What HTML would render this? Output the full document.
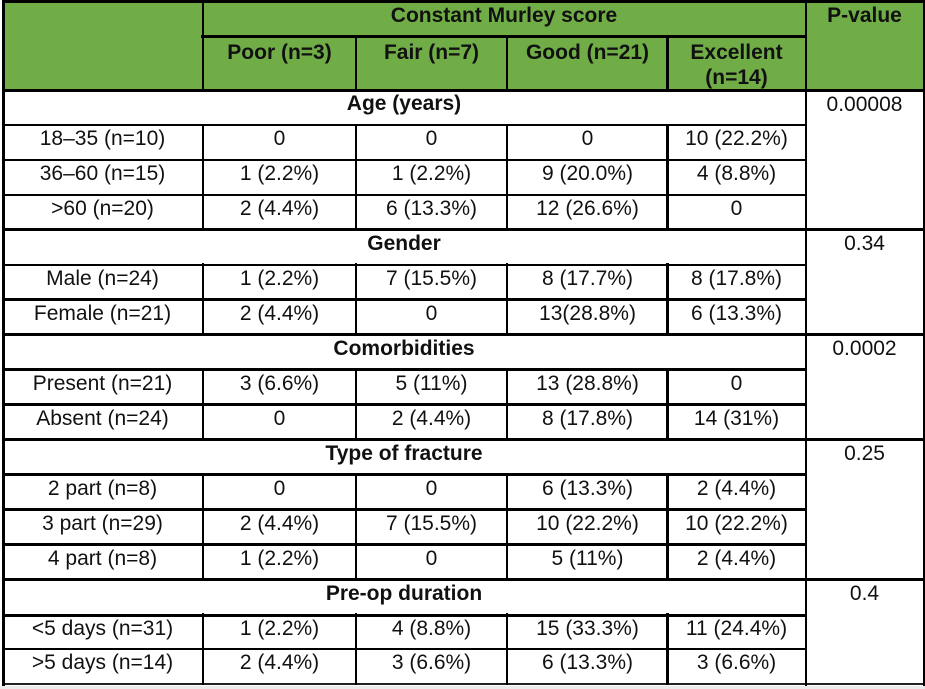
<!DOCTYPE html>
<html>
<head>
<meta charset="utf-8">
<style>
html,body{margin:0;padding:0;background:#fff;}
body{width:925px;height:688px;position:relative;overflow:hidden;}
.t{position:absolute;font-family:"Liberation Sans",sans-serif;font-size:21px;line-height:24px;color:#111;text-align:center;white-space:nowrap;}
.b{font-weight:bold;}
.c0{left:3px;width:199px;}
.c1{left:203px;width:153px;}
.c2{left:356px;width:151px;}
.c3{left:507px;width:161px;}
.c4{left:668px;width:137px;}
.c5{left:806px;width:117px;}
.g{left:3px;width:802px;}
.h{position:absolute;background:#000;}
.v{position:absolute;background:#000;}
</style>
</head>
<body>
<!-- green header background -->
<div style="position:absolute;left:2px;top:0;width:923px;height:90px;background:#70AD47;"></div>

<!-- bottom gray strip -->
<div style="position:absolute;left:0;top:685.5px;width:925px;height:3px;background:#ebebeb;"></div>

<!-- horizontal lines -->
<div class="h" style="left:2px;top:0;width:923px;height:3px;"></div>
<div class="h" style="left:201px;top:35px;width:605px;height:2.6px;"></div>
<div class="h" style="left:2px;top:88.5px;width:923px;height:3px;"></div>

<div class="h" style="left:2px;top:123.7px;width:804px;height:2.5px;"></div>
<div class="h" style="left:2px;top:158.6px;width:804px;height:2.5px;"></div>
<div class="h" style="left:2px;top:193.6px;width:804px;height:2.5px;"></div>
<div class="h" style="left:2px;top:228.3px;width:923px;height:3px;"></div>
<div class="h" style="left:2px;top:263.5px;width:804px;height:2.5px;"></div>
<div class="h" style="left:2px;top:298.4px;width:804px;height:2.5px;"></div>
<div class="h" style="left:2px;top:333.1px;width:923px;height:3px;"></div>
<div class="h" style="left:2px;top:368.3px;width:804px;height:2.5px;"></div>
<div class="h" style="left:2px;top:403.2px;width:804px;height:2.8px;"></div>
<div class="h" style="left:2px;top:437.9px;width:923px;height:3px;"></div>
<div class="h" style="left:2px;top:473.1px;width:804px;height:2.5px;"></div>
<div class="h" style="left:2px;top:508.0px;width:804px;height:2.5px;"></div>
<div class="h" style="left:2px;top:543.0px;width:804px;height:2.5px;"></div>
<div class="h" style="left:2px;top:577.7px;width:923px;height:3px;"></div>
<div class="h" style="left:2px;top:613.9px;width:804px;height:2.8px;"></div>
<div class="h" style="left:2px;top:647.8px;width:804px;height:2.5px;"></div>
<div class="h" style="left:2px;top:683.3px;width:923px;height:2.2px;background:#222;"></div>

<!-- vertical lines: borders -->
<div class="v" style="left:2px;top:0;width:2.5px;height:685.5px;"></div>
<div class="v" style="left:922.7px;top:0;width:2.3px;height:685.5px;"></div>
<div class="v" style="left:804.5px;top:0;width:2.6px;height:685.5px;"></div>

<!-- header verticals -->
<div class="v" style="left:201.5px;top:0;width:2.8px;height:91px;"></div>
<div class="v" style="left:354.5px;top:36px;width:2.8px;height:55px;"></div>
<div class="v" style="left:505.8px;top:36px;width:2.6px;height:55px;"></div>
<div class="v" style="left:666.3px;top:36px;width:2.6px;height:55px;"></div>

<!-- data verticals: Age -->
<div class="v" style="left:201.5px;top:123.5px;width:2.8px;height:106px;"></div>
<div class="v" style="left:354.5px;top:123.5px;width:2.8px;height:106px;"></div>
<div class="v" style="left:505.8px;top:123.5px;width:2.6px;height:106px;"></div>
<div class="v" style="left:666.3px;top:123.5px;width:2.6px;height:106px;"></div>
<!-- Gender -->
<div class="v" style="left:201.5px;top:263.3px;width:2.8px;height:71px;"></div>
<div class="v" style="left:354.5px;top:263.3px;width:2.8px;height:71px;"></div>
<div class="v" style="left:505.8px;top:263.3px;width:2.6px;height:71px;"></div>
<div class="v" style="left:666.3px;top:263.3px;width:2.6px;height:71px;"></div>
<!-- Comorbidities -->
<div class="v" style="left:201.5px;top:368.1px;width:2.8px;height:71px;"></div>
<div class="v" style="left:354.5px;top:368.1px;width:2.8px;height:71px;"></div>
<div class="v" style="left:505.8px;top:368.1px;width:2.6px;height:71px;"></div>
<div class="v" style="left:666.3px;top:368.1px;width:2.6px;height:71px;"></div>
<!-- Type of fracture -->
<div class="v" style="left:201.5px;top:472.9px;width:2.8px;height:106px;"></div>
<div class="v" style="left:354.5px;top:472.9px;width:2.8px;height:106px;"></div>
<div class="v" style="left:505.8px;top:472.9px;width:2.6px;height:106px;"></div>
<div class="v" style="left:666.3px;top:472.9px;width:2.6px;height:106px;"></div>
<!-- Pre-op -->
<div class="v" style="left:201.5px;top:612.7px;width:2.8px;height:72px;"></div>
<div class="v" style="left:354.5px;top:612.7px;width:2.8px;height:72px;"></div>
<div class="v" style="left:505.8px;top:612.7px;width:2.6px;height:72px;"></div>
<div class="v" style="left:666.3px;top:612.7px;width:2.6px;height:72px;"></div>

<!-- header text -->
<div class="t b" style="left:203px;width:602px;top:4px;">Constant Murley score</div>
<div class="t b c5" style="top:4px;">P-value</div>
<div class="t b c1" style="top:41.2px;">Poor (n=3)</div>
<div class="t b c2" style="top:41.2px;">Fair (n=7)</div>
<div class="t b c3" style="top:41.2px;">Good (n=21)</div>
<div class="t b c4" style="top:41.2px;">Excellent</div>
<div class="t b c4" style="top:66.4px;">(n=14)</div>

<!-- Age -->
<div class="t b g" style="top:92.4px;">Age (years)</div>
<div class="t c5" style="top:92.6px;">0.00008</div>
<div class="t c0" style="top:127.3px;">18–35 (n=10)</div>
<div class="t c1" style="top:127.3px;">0</div>
<div class="t c2" style="top:127.3px;">0</div>
<div class="t c3" style="top:127.3px;">0</div>
<div class="t c4" style="top:127.3px;">10 (22.2%)</div>
<div class="t c0" style="top:162.3px;">36–60 (n=15)</div>
<div class="t c1" style="top:162.3px;">1 (2.2%)</div>
<div class="t c2" style="top:162.3px;">1 (2.2%)</div>
<div class="t c3" style="top:162.3px;">9 (20.0%)</div>
<div class="t c4" style="top:162.3px;">4 (8.8%)</div>
<div class="t c0" style="top:197.2px;">&gt;60 (n=20)</div>
<div class="t c1" style="top:197.2px;">2 (4.4%)</div>
<div class="t c2" style="top:197.2px;">6 (13.3%)</div>
<div class="t c3" style="top:197.2px;">12 (26.6%)</div>
<div class="t c4" style="top:197.2px;">0</div>

<!-- Gender -->
<div class="t b g" style="top:232.2px;">Gender</div>
<div class="t c5" style="top:232.2px;">0.34</div>
<div class="t c0" style="top:267.1px;">Male (n=24)</div>
<div class="t c1" style="top:267.1px;">1 (2.2%)</div>
<div class="t c2" style="top:267.1px;">7 (15.5%)</div>
<div class="t c3" style="top:267.1px;">8 (17.7%)</div>
<div class="t c4" style="top:267.1px;">8 (17.8%)</div>
<div class="t c0" style="top:302.0px;">Female (n=21)</div>
<div class="t c1" style="top:302.0px;">2 (4.4%)</div>
<div class="t c2" style="top:302.0px;">0</div>
<div class="t c3" style="top:302.0px;">13(28.8%)</div>
<div class="t c4" style="top:302.0px;">6 (13.3%)</div>

<!-- Comorbidities -->
<div class="t b g" style="top:337.0px;">Comorbidities</div>
<div class="t c5" style="top:337.0px;">0.0002</div>
<div class="t c0" style="top:371.9px;">Present (n=21)</div>
<div class="t c1" style="top:371.9px;">3 (6.6%)</div>
<div class="t c2" style="top:371.9px;">5 (11%)</div>
<div class="t c3" style="top:371.9px;">13 (28.8%)</div>
<div class="t c4" style="top:371.9px;">0</div>
<div class="t c0" style="top:406.9px;">Absent (n=24)</div>
<div class="t c1" style="top:406.9px;">0</div>
<div class="t c2" style="top:406.9px;">2 (4.4%)</div>
<div class="t c3" style="top:406.9px;">8 (17.8%)</div>
<div class="t c4" style="top:406.9px;">14 (31%)</div>

<!-- Type of fracture -->
<div class="t b g" style="top:441.8px;">Type of fracture</div>
<div class="t c5" style="top:441.8px;">0.25</div>
<div class="t c0" style="top:476.7px;">2 part (n=8)</div>
<div class="t c1" style="top:476.7px;">0</div>
<div class="t c2" style="top:476.7px;">0</div>
<div class="t c3" style="top:476.7px;">6 (13.3%)</div>
<div class="t c4" style="top:476.7px;">2 (4.4%)</div>
<div class="t c0" style="top:511.7px;">3 part (n=29)</div>
<div class="t c1" style="top:511.7px;">2 (4.4%)</div>
<div class="t c2" style="top:511.7px;">7 (15.5%)</div>
<div class="t c3" style="top:511.7px;">10 (22.2%)</div>
<div class="t c4" style="top:511.7px;">10 (22.2%)</div>
<div class="t c0" style="top:546.6px;">4 part (n=8)</div>
<div class="t c1" style="top:546.6px;">1 (2.2%)</div>
<div class="t c2" style="top:546.6px;">0</div>
<div class="t c3" style="top:546.6px;">5 (11%)</div>
<div class="t c4" style="top:546.6px;">2 (4.4%)</div>

<!-- Pre-op duration -->
<div class="t b g" style="top:581.6px;">Pre-op duration</div>
<div class="t c5" style="top:581.6px;">0.4</div>
<div class="t c0" style="top:616.5px;">&lt;5 days (n=31)</div>
<div class="t c1" style="top:616.5px;">1 (2.2%)</div>
<div class="t c2" style="top:616.5px;">4 (8.8%)</div>
<div class="t c3" style="top:616.5px;">15 (33.3%)</div>
<div class="t c4" style="top:616.5px;">11 (24.4%)</div>
<div class="t c0" style="top:651.4px;">&gt;5 days (n=14)</div>
<div class="t c1" style="top:651.4px;">2 (4.4%)</div>
<div class="t c2" style="top:651.4px;">3 (6.6%)</div>
<div class="t c3" style="top:651.4px;">6 (13.3%)</div>
<div class="t c4" style="top:651.4px;">3 (6.6%)</div>
</body>
</html>
